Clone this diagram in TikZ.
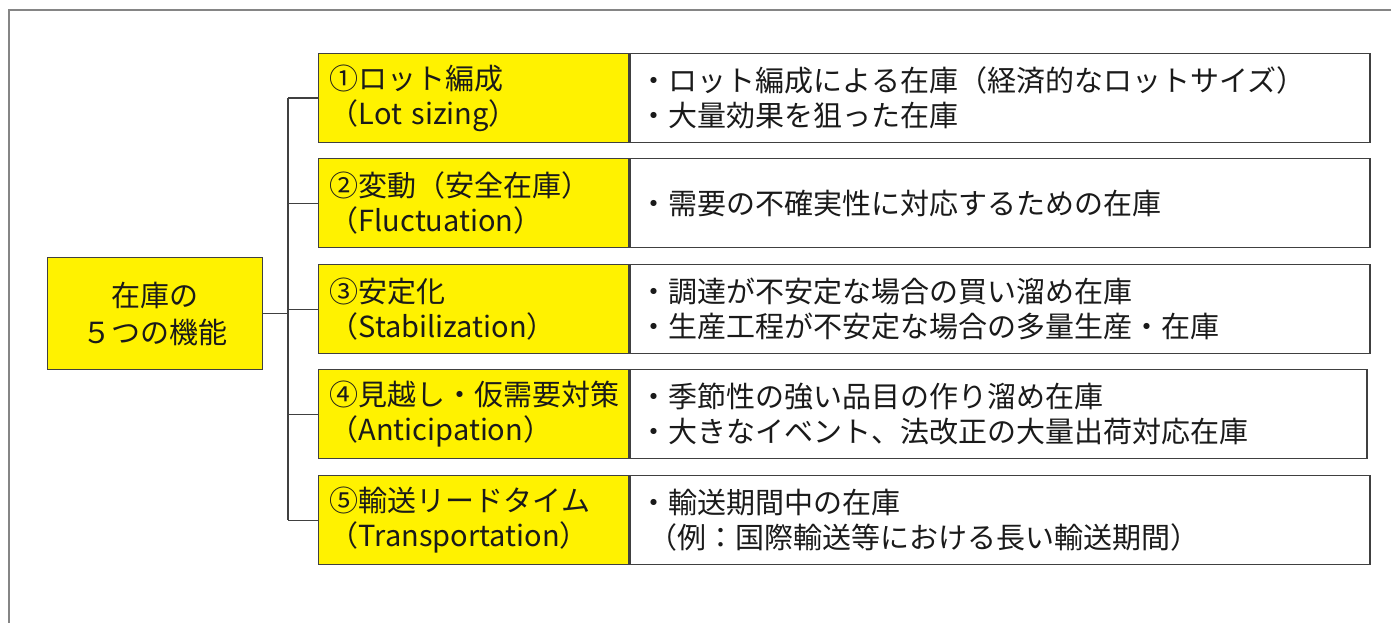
\documentclass[tikz,border=0pt]{standalone}
\usepackage{fontspec}
\setmainfont{Noto Sans CJK JP}
\definecolor{txt}{HTML}{1A1A1A}
\definecolor{edge}{HTML}{404040}
\definecolor{frame}{HTML}{858585}
\begin{document}
\begin{tikzpicture}[x=1pt,y=-1pt,
  every node/.style={text=txt},
  ybox/.style={draw=edge, line width=1.3pt, fill=yellow, anchor=north west,
    minimum height=89pt, text width=288pt, inner xsep=11pt, align=left,
    font=\fontsize{29}{35}\selectfont},
  wbox/.style={draw=edge, line width=1.3pt, fill=white, anchor=north west,
    minimum height=89pt, text width=720pt, inner xsep=10pt, align=left,
    font=\fontsize{29}{35}\selectfont},
  rootbox/.style={draw=edge, line width=1.3pt, fill=yellow, anchor=north west,
    minimum height=112pt, text width=195pt, inner xsep=10pt, align=center,
    font=\fontsize{29}{37}\selectfont},
  conn/.style={draw=edge, line width=1.3pt},
  framestyle/.style={draw=frame, line width=2.5pt}
]
\useasboundingbox (0,0) rectangle (1391,623);
\draw[framestyle] (9,623) -- (9,10) -- (1391,10);

\node[rootbox] (root) at (47,257) {在庫の\\５つの機能};

\node[ybox] (k1) at (318,53)  {①ロット編成\\（Lot sizing）};
\node[ybox] (k2) at (318,158) {②変動（安全在庫）\\（Fluctuation）};
\node[ybox] (k3) at (318,264) {③安定化\\（Stabilization）};
\node[ybox] (k4) at (318,369) {④見越し・仮需要対策\\（Anticipation）};
\node[ybox] (k5) at (318,475) {⑤輸送リードタイム\\（Transportation）};

\node[wbox] (d1) at (k1.north east) {・ロット編成による在庫（経済的なロットサイズ）\\・大量効果を狙った在庫};
\node[wbox] (d2) at (k2.north east) {・需要の不確実性に対応するための在庫};
\node[wbox] (d3) at (k3.north east) {・調達が不安定な場合の買い溜め在庫\\・生産工程が不安定な場合の多量生産・在庫};
\node[wbox, text width=717pt] (d4) at (k4.north east) {・季節性の強い品目の作り溜め在庫\\・大きなイベント、法改正の大量出荷対応在庫};
\node[wbox] (d5) at (k5.north east) {・輸送期間中の在庫\\\hspace{0.3em}（例：国際輸送等における長い輸送期間）};

\coordinate (bus) at (288,0);
\draw[conn] (root.east) -- (root.east -| bus);
\draw[conn] (bus |- k1.west) -- (bus |- k5.west);
\foreach \k in {k1,k2,k3,k4,k5} {
  \draw[conn] (bus |- \k.west) -- (\k.west);
}
\end{tikzpicture}
\end{document}
